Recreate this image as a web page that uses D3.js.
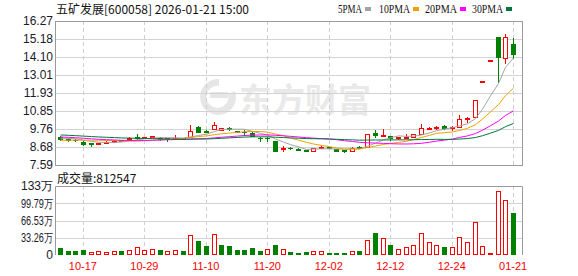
<!DOCTYPE html>
<html>
<head>
<meta charset="utf-8">
<script src="https://cdn.jsdelivr.net/npm/d3@7/dist/d3.min.js"></script>
<style>
  body { margin: 0; background: #fff; }
  svg { display: block; }
</style>
</head>
<body>
<div id="chart"></div>
<script>
// trading days shown (MM-DD)
const dates = ['10-14','10-15','10-16','10-17','10-20','10-21','10-22','10-23','10-24','10-27',
  '10-28','10-29','10-30','10-31','11-03','11-04','11-05','11-06','11-07','11-10',
  '11-11','11-12','11-13','11-14','11-17','11-18','11-19','11-20','11-21','11-24',
  '11-25','11-26','11-27','11-28','12-01','12-02','12-03','12-04','12-05','12-08',
  '12-09','12-10','12-11','12-12','12-15','12-16','12-17','12-18','12-19','12-22',
  '12-23','12-24','12-25','12-26','12-29','12-30','12-31','01-19','01-20','01-21'];
const opens = [9.30,9.18,9.12,9.00,8.90,8.86,8.96,9.02,9.10,9.16,
  9.30,9.24,9.28,9.24,9.20,9.18,9.22,9.28,9.90,9.66,
  9.76,9.72,9.80,9.62,9.60,9.54,9.24,9.24,9.04,8.58,
  8.64,8.58,8.48,8.44,8.62,8.66,8.56,8.48,8.44,8.66,
  8.68,9.54,9.36,9.34,9.20,9.26,9.30,9.46,9.80,9.82,
  9.92,9.82,9.90,10.40,10.50,12.63,13.89,15.28,14.04,14.88];
const highs = [9.34,9.22,9.14,9.04,8.92,8.94,9.02,9.08,9.12,9.28,
  9.46,9.30,9.36,9.26,9.22,9.40,9.24,10.00,9.92,9.70,
  10.16,9.84,9.88,9.64,9.68,9.56,9.26,9.26,9.06,8.74,
  8.66,8.60,8.50,8.62,8.74,8.68,8.58,8.50,8.66,8.72,
  9.48,9.70,9.76,9.36,9.30,9.44,9.46,10.06,9.90,9.94,
  9.98,9.92,10.60,10.50,11.48,12.63,13.89,15.28,15.51,15.25];
const lows = [9.12,9.06,9.02,8.82,8.76,8.84,8.94,9.00,9.02,9.14,
  9.16,9.22,9.26,9.12,9.06,9.16,9.18,9.26,9.60,9.56,
  9.74,9.70,9.70,9.56,9.40,9.34,9.04,9.04,8.44,8.44,
  8.56,8.50,8.42,8.42,8.60,8.60,8.44,8.38,8.42,8.60,
  8.66,9.30,9.34,9.12,9.18,9.24,9.28,9.44,9.76,9.78,
  9.76,9.70,9.86,10.16,10.48,12.63,13.89,12.60,13.74,14.04];
const closes = [9.16,9.10,9.08,8.85,8.87,8.92,9.00,9.06,9.04,9.20,
  9.24,9.28,9.32,9.16,9.18,9.22,9.20,9.64,9.60,9.58,
  10.00,9.80,9.76,9.60,9.56,9.36,9.20,9.22,8.46,8.62,
  8.60,8.52,8.44,8.60,8.66,8.62,8.46,8.42,8.64,8.62,
  9.46,9.40,9.42,9.20,9.26,9.30,9.44,9.80,9.84,9.88,
  9.82,9.86,10.36,10.44,11.48,12.63,13.89,14.10,15.30,14.28];
// volume in shares
const volumes = [129000,77000,77000,96000,51000,71000,51000,71000,77000,90000,
  148000,96000,109000,96000,77000,90000,77000,379000,270000,174000,
  399000,193000,174000,96000,96000,135000,77000,109000,186000,109000,
  64000,39000,58000,77000,77000,39000,39000,39000,77000,83000,
  289000,430000,328000,193000,116000,154000,193000,424000,251000,186000,
  154000,154000,341000,251000,636000,174000,39000,1234000,1060000,812547];
// closes before the window, estimated from where the MA lines start
const priorCloses = [9.70,9.72,9.68,9.66,9.62,9.60,9.64,9.62,9.58,9.58,
  9.56,9.55,9.52,9.50,9.48,9.46,9.44,9.42,9.44,9.43,
  9.10,8.98,8.90,8.88,8.94,9.12,9.20,9.26,9.26];

const priceTicks = [7.59, 8.68, 9.76, 10.85, 11.93, 13.01, 14.10, 15.18, 16.27];
const priceTickLabels = ['7.59','8.68','9.76','10.85','11.93','13.01','14.10','15.18','16.27'];
const volTicks = [0, 332625, 665250, 997875, 1330500];
const volTickLabels = ['0','33.26万','66.53万','99.79万','133万'];
const tickDates = ['10-17','10-29','11-10','11-20','12-02','12-12','12-24','01-21'];
const maPeriods = [5, 10, 20, 30];
const maNames = ['5PMA','10PMA','20PMA','30PMA'];
const maColors = ['#a3a3a3','#f2a100','#ff00ff','#00773a'];

const width = 578, height = 276;
const left = 56, right = 522;
const pTop = 21, pBottom = 165;
const vTop = 186, vBottom = 255;
const RED = '#ff0000', GREEN = '#008000';

const svg = d3.select('#chart').append('svg')
    .attr('width', width)
    .attr('height', height)
    .style('font-family', '"Liberation Sans", Arial, sans-serif');

const x = d3.scaleBand().domain(dates).range([left, 517]);
const cx = d => Math.round(x(d) + x.bandwidth() / 2);
const yP = d3.scaleLinear().domain([7.59, 16.27]).range([pBottom, pTop]);
const yV = d3.scaleLinear().domain([0, 1330500]).range([vBottom, vTop]);

// watermark
const wm = svg.append('g').attr('fill', '#e9e9e9');
wm.append('path')
    .attr('d', 'M219,79 a18,18 0 1,0 16,12 l-7,3 a11,11 0 1,1 -9,-8 z M210,92 h18 v6 h-18 z')
    .attr('fill', '#e6e6e6');
wm.append('text')
    .attr('x', 239).attr('y', 112)
    .style('font-family', '"Noto Sans CJK SC", sans-serif')
    .style('font-size', '33px').style('font-weight', 'bold')
    .text('东方财富');

// grids
const grid = svg.append('g');
grid.selectAll('.hp').data(priceTicks.slice(1, -1)).enter().append('line')
    .attr('x1', left).attr('x2', right)
    .attr('y1', d => Math.round(yP(d)) + 0.5).attr('y2', d => Math.round(yP(d)) + 0.5)
    .attr('stroke', '#d3d3d3');
grid.selectAll('.hv').data(volTicks.slice(1, -1)).enter().append('line')
    .attr('x1', left).attr('x2', right)
    .attr('y1', d => Math.round(yV(d)) + 0.5).attr('y2', d => Math.round(yV(d)) + 0.5)
    .attr('stroke', '#d3d3d3');
[[pTop, pBottom], [vTop, vBottom]].forEach(([t, b]) => {
  grid.selectAll(null).data(tickDates).enter().append('line')
      .attr('x1', d => cx(d) + 0.5).attr('x2', d => cx(d) + 0.5)
      .attr('y1', t).attr('y2', b)
      .attr('stroke', '#cfcfcf').attr('stroke-dasharray', '4,3');
});

// frames
svg.append('rect').attr('x', left - 0.5).attr('y', pTop + 0.5)
    .attr('width', right - left + 1).attr('height', pBottom - pTop)
    .attr('fill', 'none').attr('stroke', '#9a9a9a');
svg.append('path')
    .attr('d', `M${left - 0.5},${vBottom}V${vTop + 0.5}H${right + 0.5}V${vBottom}`)
    .attr('fill', 'none').attr('stroke', '#9a9a9a');

// axes
const axP = svg.append('g').attr('transform', `translate(${left - 2},0)`)
    .call(d3.axisLeft(yP).tickValues(priceTicks).tickSize(0).tickPadding(1)
      .tickFormat((d, i) => priceTickLabels[i]));
const axV = svg.append('g').attr('transform', `translate(${left - 2},0)`)
    .call(d3.axisLeft(yV).tickValues(volTicks).tickSize(0).tickPadding(1)
      .tickFormat((d, i) => volTickLabels[i]));
[axP, axV].forEach(a => {
  a.select('.domain').remove();
  a.selectAll('text').style('font-size', '12px').attr('fill', '#1a1a2a')
      .style('font-family', '"Liberation Sans", Arial, sans-serif');
});
// the volume labels share one fixed width in the original
axV.selectAll('text').filter(d => d > 0)
    .attr('textLength', 32).attr('lengthAdjust', 'spacingAndGlyphs');

const axX = svg.append('g').attr('transform', `translate(0,${vBottom + 1})`)
    .call(d3.axisBottom(x).tickValues(tickDates).tickSize(0).tickPadding(6));
axX.select('.domain').remove();
axX.selectAll('text').style('font-size', '11px').attr('fill', RED)
    .style('font-family', '"Liberation Sans", Arial, sans-serif');

// candle data
const bars = dates.map((d, i) => {
  const o = opens[i], c = closes[i];
  const prev = i > 0 ? closes[i - 1] : o;
  const up = c > o || (c === o && c >= prev);
  const volUp = i > 0 ? c > prev : up;
  return {date: d, o, h: highs[i], l: lows[i], c, v: volumes[i], up, volUp};
});

const candles = svg.append('g');
candles.selectAll('.wick').data(bars).enter().append('line')
    .attr('x1', d => cx(d.date) + 0.5).attr('x2', d => cx(d.date) + 0.5)
    .attr('y1', d => Math.round(yP(d.h))).attr('y2', d => Math.round(yP(d.l)) + 1)
    .attr('stroke', d => d.up ? RED : GREEN);
candles.selectAll('.body').data(bars).enter().append('rect')
    .attr('x', d => d.up ? cx(d.date) - 1.5 : cx(d.date) - 2)
    .attr('width', d => d.up ? 4 : 5)
    .attr('y', d => {
      const t = Math.round(yP(Math.max(d.o, d.c)));
      return d.up ? t + 0.5 : t;
    })
    .attr('height', d => {
      const t = Math.round(yP(Math.max(d.o, d.c)));
      const b = Math.round(yP(Math.min(d.o, d.c)));
      return d.up ? Math.max(1, b - t) : Math.max(1, b - t + 1);
    })
    .attr('fill', d => d.up ? '#fff' : GREEN)
    .attr('stroke', d => d.up ? RED : 'none');

// moving averages
const allCloses = priorCloses.concat(closes);
const off = priorCloses.length;
const maLine = d3.line().x(d => cx(d.date) + 0.5).y(d => yP(d.v));
maPeriods.forEach((p, k) => {
  const pts = dates.map((d, i) => ({date: d, v: d3.mean(allCloses.slice(off + i - p + 1, off + i + 1))}));
  svg.append('path').datum(pts)
      .attr('fill', 'none').attr('stroke', maColors[k]).attr('stroke-width', 1)
      .attr('d', maLine);
});

// volume bars
const vol = svg.append('g');
vol.selectAll('rect').data(bars).enter().append('rect')
    .attr('x', d => d.volUp ? cx(d.date) - 1.5 : cx(d.date) - 2)
    .attr('width', d => d.volUp ? 4 : 5)
    .attr('y', d => {
      const t = Math.round(yV(d.v));
      return d.volUp ? t + 0.5 : t;
    })
    .attr('height', d => {
      const t = Math.round(yV(d.v));
      return d.volUp ? Math.max(1, vBottom - t - 1) : Math.max(1, vBottom - t);
    })
    .attr('fill', d => d.volUp ? '#fff' : GREEN)
    .attr('stroke', d => d.volUp ? RED : 'none');

// titles
svg.append('text').attr('x', 56).attr('y', 14)
    .style('font-family', '"Noto Sans CJK SC", sans-serif').style('font-size', '12px')
    .attr('fill', '#111')
    .text('五矿发展[600058] 2026-01-21 15:00');
svg.append('text').attr('x', 57).attr('y', 183)
    .style('font-family', '"Noto Sans CJK SC", sans-serif').style('font-size', '12px')
    .attr('fill', '#111')
    .text('成交量:' + volumes[volumes.length - 1]);

// legend
const legX = [338, 379, 425, 472];
const legBox = [365, 413, 460, 506];
const leg = svg.append('g');
maNames.forEach((n, k) => {
  leg.append('text').attr('x', legX[k]).attr('y', 13)
      .style('font-family', '"Liberation Serif", serif').style('font-size', '12px')
      .attr('fill', '#111').text(n)
      .attr('textLength', legBox[k] - legX[k] - 3).attr('lengthAdjust', 'spacingAndGlyphs');
  leg.append('rect').attr('x', legBox[k]).attr('y', 7)
      .attr('width', 6).attr('height', 4).attr('fill', maColors[k]);
});
</script>
</body>
</html>
